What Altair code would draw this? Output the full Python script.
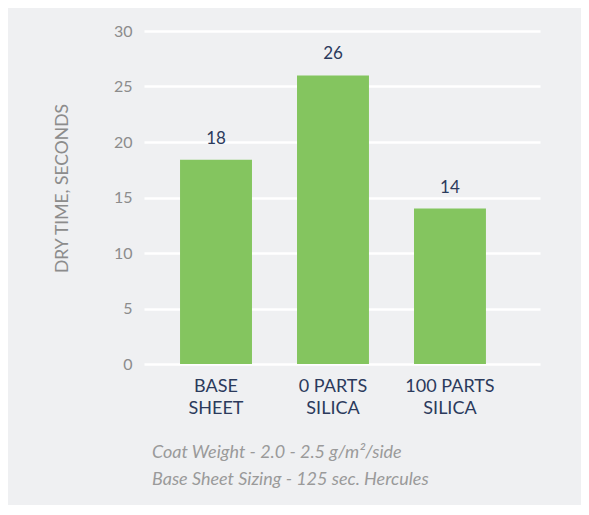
import altair as alt
import pandas as pd

categories = ["BASE SHEET", "0 PARTS SILICA", "100 PARTS SILICA"]
values = [18.4, 26.0, 14.0]
labels = ["18", "26", "14"]
y_ticks = [0, 5, 10, 15, 20, 25, 30]
footnote = ["Coat Weight - 2.0 - 2.5 g/m\u00b2/side", "Base Sheet Sizing - 125 sec. Hercules"]

df = pd.DataFrame({"cat": categories, "value": values, "label": labels})

FONT = "Lato"
BG = "#eff0f2"
NAVY = "#2b3a5c"
GRAY = "#8c8c8c"

label_expr = ("datum.value == 'BASE SHEET' ? ['BASE','SHEET'] : "
              "datum.value == '0 PARTS SILICA' ? ['0 PARTS','SILICA'] : ['100 PARTS','SILICA']")

x = alt.X("cat:N", sort=categories,
          scale=alt.Scale(paddingInner=0.385, paddingOuter=0.385, align=0.4),
          axis=alt.Axis(title=None, labelAngle=0, labelExpr=label_expr, labelFont=FONT,
                        labelFontSize=18, labelColor=NAVY, labelPadding=13, labelLineHeight=22,
                        ticks=False, domain=False, grid=False, labelBaseline="top"))
y = alt.Y("value:Q", scale=alt.Scale(domain=[0, 30]),
          axis=alt.Axis(title="DRY TIME, SECONDS", values=y_ticks, labelFont=FONT, labelFontSize=16,
                        labelColor=GRAY, labelPadding=12, ticks=False, domain=False,
                        grid=True, gridColor="white", gridWidth=2.5,
                        titleFont=FONT, titleFontSize=17.5, titleColor=GRAY, titleFontWeight="normal",
                        titleAngle=-90, titleX=-82, titleY=157, titleAlign="center",
                        titleBaseline="middle"))

bars = alt.Chart(df).mark_bar(color="#84c55f").encode(x=x, y=y)
text = alt.Chart(df).mark_text(font=FONT, fontSize=17, color=NAVY, baseline="alphabetic", dy=-16).encode(
    x=alt.X("cat:N", sort=categories), y="value:Q", text="label:N")

chart = alt.layer(bars, text).properties(
    width=396, height=333,
    autosize=alt.AutoSizeParams(type="none"),
    padding={"left": 136, "top": 23, "right": 41, "bottom": 141},
    background=BG,
    title=alt.TitleParams(text=footnote, orient="bottom", anchor="start", frame="group",
                          font=FONT, fontSize=18,
                          fontStyle="italic", fontWeight="normal", color="#9a9a9a", lineHeight=27,
                          dx=8, offset=27),
).configure_view(stroke=None)

chart.save("out.html", embed_options={"renderer": "svg", "actions": False})
